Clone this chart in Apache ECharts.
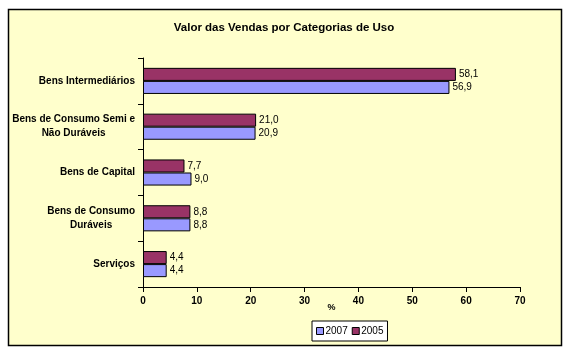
<!DOCTYPE html>
<html>
<head>
<meta charset="utf-8">
<script src="https://cdn.jsdelivr.net/npm/echarts@6/dist/echarts.min.js"></script>
<style>
html, body { margin: 0; padding: 0; background: #ffffff; }
#chartDiv { width: 568px; height: 353px; }
</style>
</head>
<body>
<div id="chartDiv"></div>
<script>
// 数据 (categories listed bottom to top)
let categories = ['Serviços', 'Bens de Consumo\nDuráveis', 'Bens de Capital', 'Bens de Consumo Semi e\nNão Duráveis', 'Bens Intermediários'];
let values2007 = [4.4, 8.8, 9.0, 20.9, 56.9];
let values2005 = [4.4, 8.8, 7.7, 21.0, 58.1];
let xTicks = [0, 10, 20, 30, 40, 50, 60, 70];

let myChart = echarts.init(document.getElementById('chartDiv'));
let font = 'Liberation Sans, Arial, sans-serif';

function barLabel() {
	return {
		show: true,
		position: 'right',
		distance: 3,
		color: '#000',
		fontFamily: font,
		fontSize: 10,
		formatter(p) {
			return p.value.toFixed(1).replace('.', ',');
		}
	};
}

let option = {
	animation: false,
	backgroundColor: '#ffffff',
	textStyle: {fontFamily: font},
	graphic: [{
		type: 'rect',
		z: -10,
		shape: {x: 8.5, y: 9.5, width: 553, height: 336},
		style: {fill: '#FFFFCC', stroke: '#000', lineWidth: 1.5}
	}],
	title: {
		text: 'Valor das Vendas por Categorias de Uso',
		left: 'center',
		top: 17,
		textStyle: {fontSize: 11.5, fontWeight: 'bold', color: '#000', fontFamily: font}
	},
	legend: {
		data: ['2007', '2005'],
		left: 312,
		top: 321,
		padding: [5, 4, 5, 4],
		itemGap: 4,
		itemWidth: 7,
		itemHeight: 7,
		icon: 'rect',
		borderColor: '#000',
		borderWidth: 1,
		backgroundColor: '#fff',
		textStyle: {fontSize: 10, color: '#000', padding: [0, 0, 0, -3]},
		itemStyle: {borderColor: '#000', borderWidth: 1}
	},
	grid: {left: 143, right: 48, top: 58, bottom: 66, containLabel: false},
	xAxis: {
		type: 'value',
		min: 0,
		max: 70,
		interval: 10,
		name: '%',
		nameLocation: 'middle',
		nameGap: 16,
		nameMoveOverlap: false,
		nameTextStyle: {fontSize: 9, fontWeight: 'bold', color: '#000'},
		axisLine: {show: true, lineStyle: {color: '#000', width: 1}},
		axisTick: {show: true, length: 5, inside: false, lineStyle: {color: '#000'}},
		axisLabel: {
			color: '#000', fontSize: 10, fontWeight: 'bold', margin: 9,
			formatter(v) { return xTicks.includes(v) ? String(v) : ''; }
		},
		splitLine: {show: false}
	},
	yAxis: {
		type: 'category',
		data: categories,
		axisLine: {show: true, lineStyle: {color: '#000', width: 1}},
		axisTick: {show: true, length: 5, lineStyle: {color: '#000'}},
		axisLabel: {
			margin: 8,
			formatter(v) {
				return v.split('\n').map(s => '{c|' + s + '}').join('\n');
			},
			rich: {
				c: {align: 'center', fontSize: 10, fontWeight: 'bold', color: '#000', fontFamily: font, lineHeight: 14}
			}
		}
	},
	series: [{
		name: '2005',
		type: 'bar',
		data: values2005,
		barCategoryGap: '43%',
		barGap: '0%',
		itemStyle: {color: '#993366', borderColor: '#000', borderWidth: 1},
		label: barLabel()
	}, {
		name: '2007',
		type: 'bar',
		data: values2007,
		barCategoryGap: '43%',
		barGap: '0%',
		itemStyle: {color: '#9999FF', borderColor: '#000', borderWidth: 1},
		label: barLabel()
	}]
};
myChart.setOption(option);
</script>
</body>
</html>
